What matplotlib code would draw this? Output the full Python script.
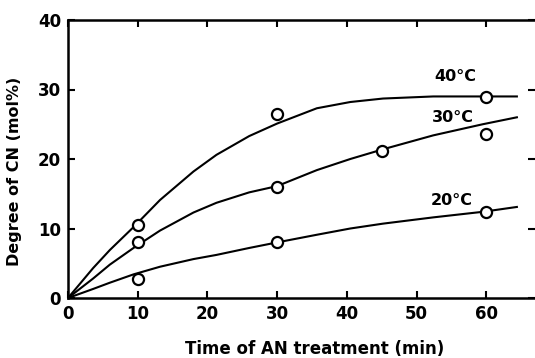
import matplotlib
matplotlib.use('Agg')
from matplotlib import pyplot as plt

# measured points (open circles)
t_40 = [10, 30, 60]
cn_40 = [10.5, 26.5, 28.9]
t_30 = [10, 30, 45, 60]
cn_30 = [8.0, 16.0, 21.2, 23.6]
t_20 = [10, 30, 60]
cn_20 = [2.7, 8.0, 12.4]

# smooth curves
curve_t = [0, 3.6, 6, 9.4, 13.2, 18, 21.3, 26, 30, 35.7, 40.5, 45.2, 52.4, 59.5, 64.4]
curve_40 = [0, 4.3, 6.9, 10.2, 14.1, 18.2, 20.6, 23.3, 25.1, 27.3, 28.2, 28.7, 29.0, 29.0, 29.0]
curve_30 = [0, 2.8, 4.8, 7.2, 9.7, 12.3, 13.7, 15.2, 16.1, 18.4, 20.0, 21.4, 23.4, 25.0, 26.0]
curve_20 = [0, 1.3, 2.2, 3.4, 4.5, 5.6, 6.2, 7.2, 8.0, 9.1, 10.0, 10.7, 11.6, 12.4, 13.1]

labels = ['40°C', '30°C', '20°C']
label_pos = [(55.5, 31.9), (55.2, 25.9), (55.1, 14.1)]

xticks = [0, 10, 20, 30, 40, 50, 60]
yticks = [0, 10, 20, 30, 40]

plt.rcParams['font.family'] = ['DejaVu Sans']
plt.rcParams['font.weight'] = 'bold'

fig = plt.figure(figsize=(5.35, 3.58), dpi=100)
ax = fig.add_axes((68/535, 60/358, 467/535, 278/358))

for ys in (curve_40, curve_30, curve_20):
    ax.plot(curve_t, ys, color='black', lw=1.5, solid_joinstyle='round')

for t, v in ((t_40, cn_40), (t_30, cn_30), (t_20, cn_20)):
    ax.plot(t, v, 'o', ms=8, mfc='white', mec='black', mew=1.6, zorder=3)

for lab, (x, y) in zip(labels, label_pos):
    ax.text(x, y, lab, ha='center', va='center', fontsize=11.5, fontweight='bold')

ax.set_xlim(0, 67)
ax.set_ylim(0, 40)
ax.set_xticks(xticks)
ax.set_yticks(yticks)
ax.tick_params(direction='in', length=5, width=1.5, labelsize=12,
               top=True, right=True, pad=5)
ax.spines['right'].set_visible(False)
for s in ('left', 'bottom', 'top'):
    ax.spines[s].set_linewidth(1.8)

ax.set_xlabel('Time of AN treatment (min)', fontsize=12, fontweight='bold')
ax.set_ylabel('Degree of CN (mol%)', fontsize=11.5, fontweight='bold')
ax.xaxis.set_label_coords(0.529, -0.15)
ax.yaxis.set_label_coords(-0.098, 0.457)

fig.savefig('out.png', dpi=100)
